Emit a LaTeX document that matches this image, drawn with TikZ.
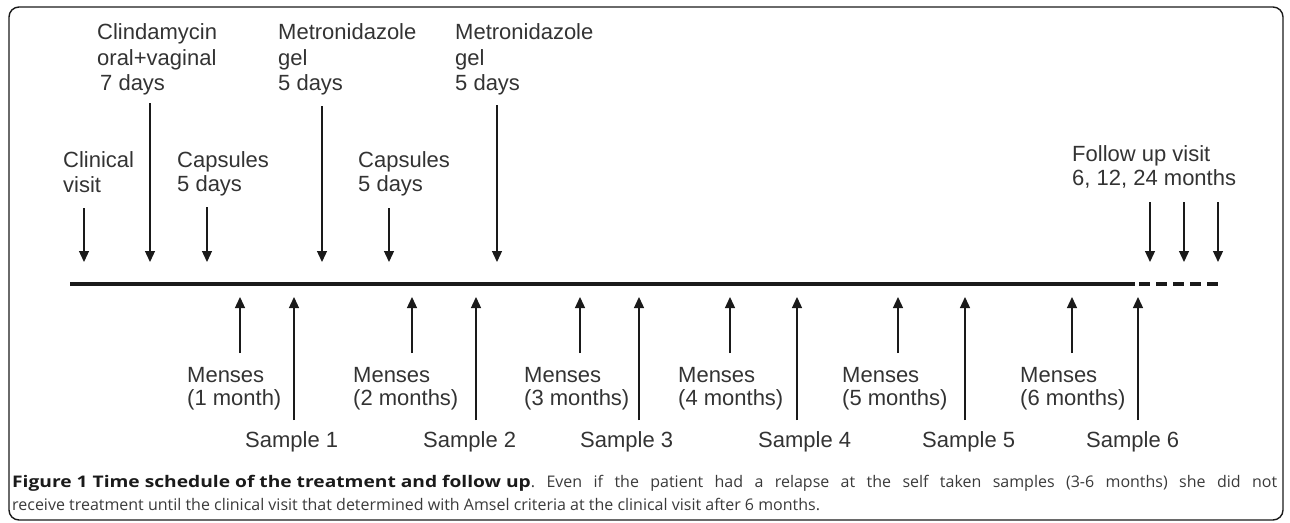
\documentclass[tikz,border=0pt]{standalone}
\usepackage{fontspec}
\setmainfont{Liberation Sans}
\newfontfamily\capfont{Open Sans}
\usetikzlibrary{arrows.meta}
\definecolor{txt}{HTML}{333333}
\definecolor{ink}{HTML}{1A1A1A}
\definecolor{captxt}{HTML}{3A3A3A}
\begin{document}
\begin{tikzpicture}[x=1pt,y=-1pt,
  lbl/.style={anchor=base west, inner sep=0pt, font=\fontsize{22}{25}\selectfont, text=txt},
  arr/.style={draw=ink, line width=1.3pt, -{Triangle[width=10pt,length=11pt]}},
  capline/.style={anchor=base west, inner sep=0pt, font=\capfont\fontsize{16}{18}\selectfont, text=captxt},
  frame/.style={draw=ink, line width=1.4pt, rounded corners=10pt},
  timeline/.style={draw=ink, line width=4pt}
  ]
\useasboundingbox (0,0) rectangle (1290,522);
\draw[frame] (9,7) rectangle (1283,520);

% timeline
\coordinate (t0) at (70,284);
\coordinate (t1) at (1135,284);
\coordinate (d0) at (1139,284);
\coordinate (d1) at (1220,284);
\draw[timeline] (t0) -- (t1);
\draw[timeline, dash pattern=on 11pt off 6pt] (d0) -- (d1);

% top labels
\node[lbl] (cv1) at (63,167) {Clinical};
\node[lbl] (cv2) at (63,192) {visit};
\node[lbl] (cl1) at (97,39) {Clindamycin};
\node[lbl] (cl2) at (97,65) {oral+vaginal};
\node[lbl] (cl3) at (100,90) {7 days};
\node[lbl] (ma1) at (278,39) {Metronidazole};
\node[lbl] (ma2) at (278,65) {gel};
\node[lbl] (ma3) at (278,90) {5 days};
\node[lbl] (ca1) at (177,167) {Capsules};
\node[lbl] (ca2) at (177,191) {5 days};
\node[lbl] (cb1) at (358,167) {Capsules};
\node[lbl] (cb2) at (358,191) {5 days};
\node[lbl] (mb1) at (455,39) {Metronidazole};
\node[lbl] (mb2) at (455,65) {gel};
\node[lbl] (mb3) at (455,90) {5 days};
\node[lbl] (fu1) at (1072,161) {Follow up visit};
\node[lbl] (fu2) at (1072,185) {6, 12, 24 months};

% top arrows
\foreach \n/\x/\y in {cv/84/208, cl/150/103, ca/207/207, ma/322/106, cb/389/208, mb/497/105, fa/1150/202, fb/1184/202, fc/1218/202}{
  \coordinate (\n s) at (\x,\y);
  \coordinate (\n e) at (\x,262);
  \draw[arr] (\n s) -- (\n e);
}

% bottom labels
\foreach \i/\mx/\sx/\txt in {1/187/245/(1 month), 2/353/423/(2 months), 3/524/580/(3 months), 4/678/758/(4 months), 5/842/922/(5 months), 6/1020/1086/(6 months)}{
  \node[lbl] (me\i) at (\mx,382) {Menses};
  \node[lbl] (mm\i) at (\mx,405) {\txt};
  \node[lbl] (sa\i) at (\sx,447) {Sample \i};
}

% bottom arrows
\foreach \i/\mx/\sx in {1/240/294, 2/412/476, 3/580/639, 4/730/797, 5/898/965, 6/1072/1138}{
  \coordinate (ms\i) at (\mx,353);
  \coordinate (me\i t) at (\mx,297);
  \coordinate (ss\i) at (\sx,420);
  \coordinate (se\i t) at (\sx,297);
  \draw[arr] (ms\i) -- (me\i t);
  \draw[arr] (ss\i) -- (se\i t);
}

% caption
\node[capline] (cap1) at (12,487) {\makebox[1265pt][s]{{\color{ink}\scalebox{1.2}[1]{\bfseries Figure 1 Time schedule of the treatment and follow up}}.\ Even if the patient had a relapse at the self taken samples (3-6 months) she did not}};
\node[capline] (cap2) at (12,510) {receive treatment until the clinical visit that determined with Amsel criteria at the clinical visit after 6 months.};
\end{tikzpicture}
\end{document}
